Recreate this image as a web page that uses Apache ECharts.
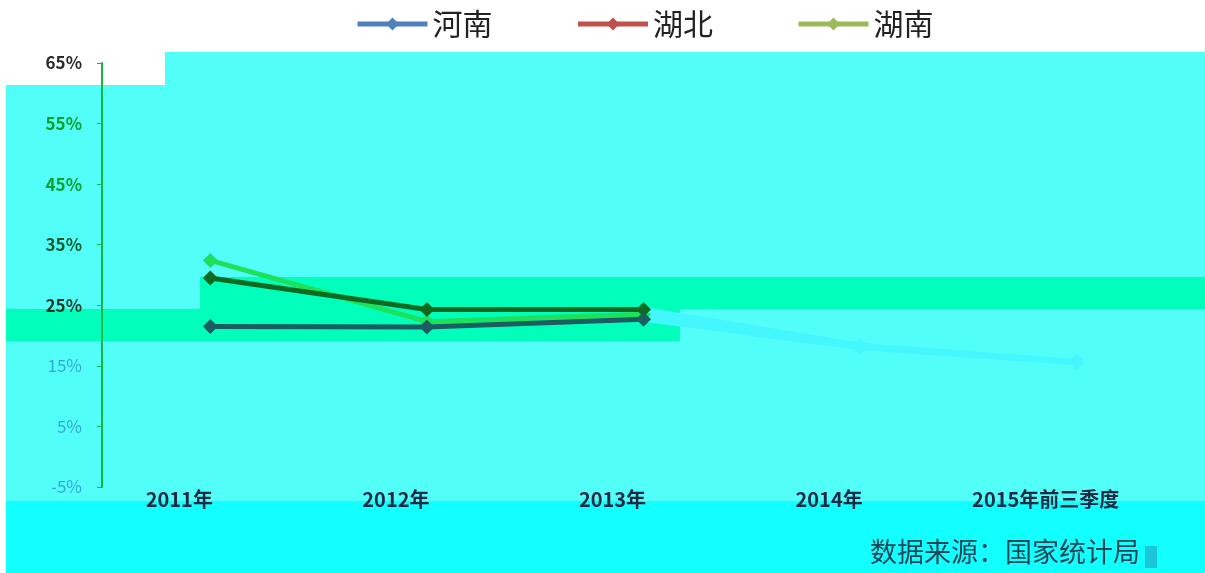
<!DOCTYPE html>
<html>
<head>
<meta charset="utf-8">
<script src="https://cdn.jsdelivr.net/npm/echarts@6/dist/echarts.min.js"></script>
<style>
  html, body { margin: 0; padding: 0; background: #ffffff; }
  #chart { width: 1205px; height: 573px; }
</style>
</head>
<body>
<div id="chart"></div>
<script>
// Categories (years) and growth rates (%) per province
var categories = ['2011年', '2012年', '2013年', '2014年', '2015年前三季度'];
var henan = [21.5, 21.4, 22.7, 18.0, 15.5];
var hubei = [29.5, 24.3, 24.3, 18.4, 15.7];
var hunan = [32.4, 22.3, 23.5, 18.2, 15.6];
var seriesNames = ['河南', '湖北', '湖南'];
var yTicks = [-5, 5, 15, 25, 35, 45, 55, 65];

var legendColors = ['#4F81BD', '#C0504D', '#9BBB59'];
var lineColors = ['#1C5D61', '#0D6A1F', '#1FE05A'];
var fadedColor = '#44F6FD';
var font = '"Noto Sans CJK SC", "Noto Sans", sans-serif';

var chart = echarts.init(document.getElementById('chart'));

function makeSeries(name, data, i) {
  return {
    name: name,
    type: 'line',
    data: data,
    symbol: 'diamond',
    symbolSize: 15,
    lineStyle: { width: 5 },
    itemStyle: { color: lineColors[i] },
    z: 3 + (2 - i)
  };
}

// Later segments rendered in the faded tone
var visualMaps = [0, 1, 2].map(function (i) {
  return {
    type: 'piecewise',
    show: false,
    seriesIndex: i,
    dimension: 0,
    pieces: [
      { gte: 0, lte: 2, color: lineColors[i] },
      { gt: 2, lte: 4, color: fadedColor }
    ]
  };
});

var labelStyles = {
  top: { color: '#2a2a2a', fontWeight: 'bold', fontSize: 17, fontFamily: font },
  green: { color: '#0C9E2C', fontWeight: 'bold', fontSize: 17, fontFamily: font },
  dark: { color: '#0B5A2A', fontWeight: 'bold', fontSize: 17, fontFamily: font },
  darker: { color: '#0A3C22', fontWeight: 'bold', fontSize: 17, fontFamily: font },
  light: { color: '#35A6D8', fontSize: 17, fontFamily: font }
};

function yLabel(v) {
  var s = v + '%';
  if (v === 65) return '{top|' + s + '}';
  if (v === 55 || v === 45) return '{green|' + s + '}';
  if (v === 35) return '{dark|' + s + '}';
  if (v === 25) return '{darker|' + s + '}';
  return '{light|' + s + '}';
}

var option = {
  backgroundColor: '#ffffff',
  animation: false,
  graphic: [
    { type: 'rect', z: -10, shape: { x: 6, y: 85, width: 1199, height: 416 }, style: { fill: '#52FFF8' } },
    { type: 'rect', z: -10, shape: { x: 165, y: 52, width: 1040, height: 34 }, style: { fill: '#52FFF8' } },
    { type: 'rect', z: -9, shape: { x: 200, y: 277, width: 1005, height: 32 }, style: { fill: '#00FFBA' } },
    { type: 'rect', z: -9, shape: { x: 6, y: 309, width: 674, height: 32 }, style: { fill: '#00FFBA' } },
    { type: 'rect', z: -10, shape: { x: 6, y: 501, width: 1199, height: 72 }, style: { fill: '#12FFFF' } },
    { type: 'rect', z: -8, shape: { x: 1145, y: 546, width: 12, height: 22 }, style: { fill: '#1CC6DA' } },
    {
      type: 'text', z: 10, left: 870, top: 538,
      style: {
        text: '数据来源：国家统计局',
        fill: '#1E4656',
        font: '27px "Noto Sans CJK SC", sans-serif'
      }
    }
  ],
  legend: {
    top: 4,
    left: 350,
    itemWidth: 70,
    itemHeight: 16,
    itemGap: 83,
    textStyle: { fontSize: 30, color: '#222222', fontFamily: font },
    data: seriesNames.map(function (n, i) {
      return {
        name: n,
        itemStyle: { color: legendColors[i] },
        lineStyle: { color: legendColors[i], width: 5 }
      };
    })
  },
  grid: { left: 102, right: 20, top: 63, bottom: 86 },
  xAxis: {
    type: 'category',
    data: categories,
    boundaryGap: true,
    axisLine: { show: false },
    axisTick: { show: false },
    axisLabel: {
      margin: 2,
      fontSize: 20,
      fontWeight: 'bold',
      color: '#1B2A45',
      fontFamily: font,
      padding: [0, 62, 0, 0]
    }
  },
  yAxis: {
    type: 'value',
    min: -5,
    max: 65,
    splitLine: { show: false },
    axisLine: { show: true, lineStyle: { color: '#14B644', width: 2 } },
    axisTick: { show: true, length: 5, customValues: yTicks, lineStyle: { color: '#14B644' } },
    axisLabel: {
      margin: 20,
      customValues: yTicks,
      formatter: yLabel,
      rich: labelStyles
    }
  },
  visualMap: visualMaps,
  series: [
    makeSeries(seriesNames[0], henan, 0),
    makeSeries(seriesNames[1], hubei, 1),
    makeSeries(seriesNames[2], hunan, 2)
  ]
};

chart.setOption(option);
</script>
</body>
</html>
